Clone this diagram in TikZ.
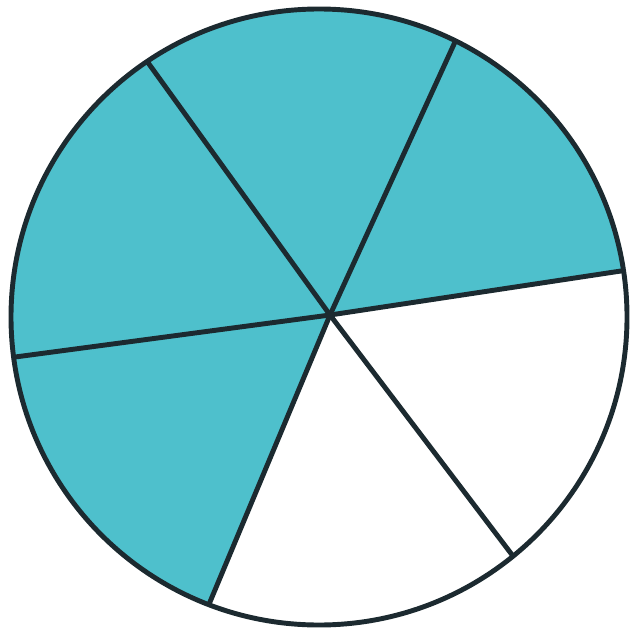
\documentclass[tikz,border=0pt]{standalone}
\usepackage{xcolor}
\usepackage{tikz}
\usetikzlibrary{calc}
\definecolor{piefill}{HTML}{4EC0CC}
\definecolor{piedraw}{HTML}{1C2A30}
\tikzset{
  rim/.style={draw=piedraw, line width=1.4pt},
  wedge/.style={fill=piefill},
  spoke/.style={draw=piedraw, line width=1.4pt, line cap=round},
}
\begin{document}
\begin{tikzpicture}
  \useasboundingbox (0,0) rectangle (6.36,6.32);
  \coordinate (ctr) at (3.19,3.15);
  \coordinate (hub) at (3.30,3.17);
  % shaded part: four of six wedges
  \begin{scope}
    \clip (ctr) circle (3.08);
    \fill[wedge] (hub) -- ($(hub)+(8.6:5)$) -- ($(hub)+(65.4:5)$) -- ($(hub)+(125.8:5)$) -- ($(hub)+(187.6:5)$) -- ($(hub)+(247.3:5)$) -- cycle;
    \foreach \a in {125.8, 65.4, 8.6, -52.8, 247.3, 187.6}
      \draw[spoke] (hub) -- ++(\a:5);
  \end{scope}
  \draw[rim] (ctr) circle (3.08);
\end{tikzpicture}
\end{document}
